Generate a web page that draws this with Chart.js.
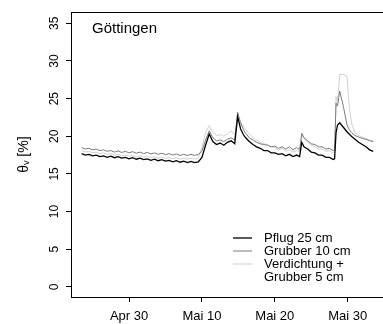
<!DOCTYPE html>
<html>
<head>
<meta charset="utf-8">
<script src="https://cdn.jsdelivr.net/npm/chart.js@4/dist/chart.umd.min.js"></script>
<style>
  html, body { margin: 0; padding: 0; background: #fff; }
  #wrap { width: 383px; height: 324px; }
</style>
</head>
<body>
<div id="wrap"><canvas id="chart" width="383" height="324"></canvas></div>
<script>
// days relative to 30 April
const days = [
  -6.5, -6, -5.5, -5, -4.5, -4, -3.5, -3, -2.5, -2, -1.5, -1, -0.5, 0, 0.5, 1, 1.5, 2, 2.5, 3,
  3.5, 4, 4.5, 5, 5.5, 6, 6.5, 7, 7.5, 8, 8.5, 9, 9.5,
  10, 10.5, 11, 11.5, 12, 12.5, 13, 13.5, 14, 14.5, 14.9, 15.3, 15.7, 16, 16.5, 17, 17.5, 18, 18.5, 19,
  19.5, 20, 20.5, 21, 21.5, 22, 22.5, 23, 23.4, 23.7, 24, 24.5, 25, 25.5, 26, 26.5, 27, 27.5, 28, 28.2,
  28.4, 28.6, 28.9, 29.4, 29.9, 30.2, 30.5, 31, 31.5, 32, 32.5, 33, 33.5
];
const pflug = [
  17.7, 17.5, 17.6, 17.4, 17.5, 17.3, 17.4, 17.2, 17.35, 17.15, 17.3, 17.1, 17.2, 17.0, 17.15, 16.95, 17.1, 16.9, 17.0, 16.8,
  16.95, 16.75, 16.9, 16.7, 16.8, 16.6, 16.75, 16.55, 16.7, 16.5, 16.65, 16.5, 16.6,
  17.2, 18.8, 20.3, 19.3, 18.9, 19.1, 18.8, 19.2, 19.4, 19.0, 22.6, 21.0, 20.2, 19.8, 19.3, 18.9, 18.6, 18.4, 18.1, 18.1,
  17.8, 17.8, 17.6, 17.7, 17.4, 17.6, 17.3, 17.5, 17.3, 19.2, 18.6, 18.3, 17.9, 17.8, 17.5, 17.5, 17.2, 17.2, 16.9, 17.0,
  20.5, 21.5, 21.8, 21.2, 20.6, 20.3, 20.0, 19.6, 19.2, 18.9, 18.6, 18.2, 18.0
];
const grubber10 = [
  18.5, 18.3, 18.4, 18.2, 18.3, 18.1, 18.2, 18.0, 18.1, 17.9, 18.05, 17.85, 18.0, 17.8, 17.95, 17.75, 17.9, 17.7, 17.85, 17.65,
  17.8, 17.6, 17.75, 17.55, 17.7, 17.5, 17.65, 17.45, 17.6, 17.45, 17.6, 17.45, 17.6,
  18.0, 19.5, 20.7, 19.8, 19.4, 19.5, 19.3, 19.6, 19.8, 19.5, 23.2, 21.8, 20.9, 20.4, 19.8, 19.5, 19.2, 19.0, 18.9, 18.8,
  18.6, 18.7, 18.4, 18.6, 18.3, 18.6, 18.2, 18.5, 18.2, 20.4, 19.8, 19.4, 19.0, 18.9, 18.6, 18.6, 18.3, 18.4, 18.1, 18.2,
  24.4, 24.0, 26.0, 24.0, 21.5, 20.9, 20.5, 20.1, 19.9, 19.7, 19.6, 19.4, 19.3
];
const verdichtung = [
  18.1, 17.9, 18.0, 17.8, 17.9, 17.7, 17.8, 17.6, 17.7, 17.5, 17.6, 17.4, 17.5, 17.35, 17.45, 17.25, 17.4, 17.2, 17.35, 17.15,
  17.3, 17.1, 17.25, 17.05, 17.2, 17.0, 17.15, 16.95, 17.1, 16.95, 17.1, 16.95, 17.1,
  18.5, 20.5, 21.4, 20.5, 20.1, 20.2, 20.0, 20.3, 20.7, 20.2, 22.2, 21.9, 21.3, 20.9, 20.3, 19.8, 19.5, 19.2, 19.0, 18.9,
  18.6, 18.5, 18.2, 18.4, 18.0, 18.2, 17.9, 18.1, 17.9, 20.2, 19.7, 19.2, 18.8, 18.6, 18.3, 18.3, 18.0, 18.1, 17.8, 18.0,
  25.3, 24.5, 28.2, 28.2, 28.0, 24.0, 21.8, 20.5, 20.1, 19.9, 19.7, 19.5, 19.4
];
const xTicks = [0, 10, 20, 30];
const xTickLabels = ['Apr 30', 'Mai 10', 'Mai 20', 'Mai 30'];
const yTicks = [0, 5, 10, 15, 20, 25, 30, 35];
const seriesNames = ['Pflug 25 cm', 'Grubber 10 cm', ['Verdichtung +', 'Grubber 5 cm']];
const siteName = 'Göttingen';

const FONT = "'Liberation Sans', Arial, sans-serif";
Chart.defaults.font.family = FONT;
Chart.defaults.color = '#000';

const pts = arr => days.map((d, i) => ({ x: d, y: arr[i] }));

// legend + site label inside the plot, R style
const plotText = {
  id: 'plotText',
  afterDraw(chart) {
    const { ctx, chartArea } = chart;
    ctx.save();
    ctx.fillStyle = '#000';
    ctx.font = '15px ' + FONT;
    ctx.textBaseline = 'middle';
    ctx.textAlign = 'left';
    ctx.fillText(siteName, chartArea.left + 21, chartArea.top + 17);

    ctx.font = '13px ' + FONT;
    let row = chartArea.bottom - 59;
    chart.data.datasets.forEach(ds => {
      const lx = chartArea.right - 150;
      ctx.strokeStyle = ds.borderColor;
      ctx.lineWidth = ds.borderWidth;
      ctx.beginPath();
      ctx.moveTo(lx, row);
      ctx.lineTo(lx + 19, row);
      ctx.stroke();
      const lines = Array.isArray(ds.label) ? ds.label : [ds.label];
      lines.forEach(t => {
        ctx.fillText(t, lx + 31, row);
        row += 13;
      });
    });
    ctx.restore();
  }
};

new Chart(document.getElementById('chart'), {
  type: 'line',
  data: {
    datasets: [
      { label: seriesNames[0], data: pts(pflug), borderColor: '#000000', borderWidth: 1.3 },
      { label: seriesNames[1], data: pts(grubber10), borderColor: '#7a7a7a', borderWidth: 1 },
      { label: seriesNames[2], data: pts(verdichtung), borderColor: '#cfcfcf', borderWidth: 1 }
    ]
  },
  options: {
    responsive: false,
    animation: false,
    layout: { padding: 0 },
    elements: { point: { radius: 0 }, line: { tension: 0, fill: false } },
    plugins: { legend: { display: false }, tooltip: { enabled: false } },
    scales: {
      x: {
        type: 'linear',
        position: 'bottom',
        min: -7.96,
        max: 34.84,
        afterBuildTicks: s => { s.ticks = xTicks.map(v => ({ value: v })); },
        afterFit: s => { s.height = 27; },
        ticks: {
          callback: v => xTickLabels[xTicks.indexOf(v)],
          font: { size: 13 },
          color: '#000',
          maxRotation: 0,
          autoSkip: false,
          padding: 7
        },
        grid: { drawOnChartArea: false, tickLength: 5, color: '#000' },
        border: { display: true, color: '#000', width: 1 }
      },
      x2: {
        type: 'linear',
        axis: 'x',
        position: 'top',
        min: -7.96,
        max: 34.84,
        afterFit: s => { s.height = 8; },
        ticks: { display: false },
        grid: { display: false },
        border: { display: true, color: '#000', width: 1 }
      },
      y: {
        min: -1.35,
        max: 36.48,
        afterBuildTicks: s => { s.ticks = yTicks.map(v => ({ value: v })); },
        afterFit: s => { s.width = 71; },
        ticks: {
          minRotation: 90,
          maxRotation: 90,
          crossAlign: 'center',
          padding: 5,
          font: { size: 12 },
          color: '#000'
        },
        grid: { drawOnChartArea: false, tickLength: 5, color: '#000' },
        border: { display: true, color: '#000', width: 1 },
        title: {
          display: true,
          text: 'θᵥ [%]',
          font: { size: 14 },
          color: '#000',
          padding: { top: 16, bottom: 0 }
        }
      }
    }
  },
  plugins: [plotText]
});
</script>
</body>
</html>
